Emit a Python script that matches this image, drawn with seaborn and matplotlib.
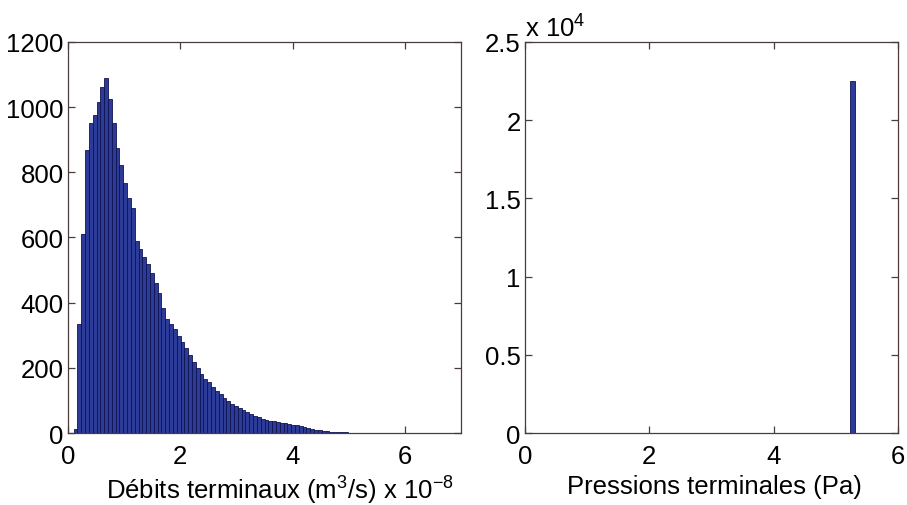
"""
Histogrammes des débits et pressions terminaux (style MATLAB).
"""

import matplotlib
matplotlib.use('Agg')
import matplotlib.pyplot as plt
import seaborn as sns
import numpy as np
import pandas as pd

# Débits terminaux (x 1e-8 m3/s): histogram
flow_bin_start = 0.10
flow_bin_width = 0.068
flow_counts = [12, 333, 610, 869, 952, 975, 1016, 1062, 1090, 1026,
               950, 874, 823, 767, 721, 691, 590, 565, 540, 520,
               490, 460, 430, 385, 350, 335, 318, 298, 278, 260,
               240, 218, 198, 180, 166, 155, 142, 130, 120, 108,
               98, 90, 82, 76, 70, 64, 58, 52, 48, 44,
               40, 38, 36, 34, 32, 30, 28, 26, 24, 21,
               18, 15, 12, 10, 8, 6, 5, 4, 3, 3,
               2, 2, 1, 1, 1, 0, 1]

# Pressions terminales (Pa): a single bin holds everything
pressure_values = [5.27]
pressure_counts = [22500]
pressure_bin_width = 0.08

left_xticks = [0, 2, 4, 6]
left_yticks = [0, 200, 400, 600, 800, 1000, 1200]
right_xticks = [0, 2, 4, 6]
right_yticks = [0, 5000, 10000, 15000, 20000, 25000]
right_ytick_labels = ['0', '0.5', '1', '1.5', '2', '2.5']

sns.set_style('ticks')
plt.rcParams['font.family'] = ['Liberation Sans', 'DejaVu Sans']
plt.rcParams['mathtext.fontset'] = 'custom'
plt.rcParams['mathtext.rm'] = 'Liberation Sans'
plt.rcParams['mathtext.it'] = 'Liberation Sans:italic'
plt.rcParams['text.color'] = 'black'
plt.rcParams['axes.labelcolor'] = 'black'

FS = 18.5
BAR = '#2c3a98'
EDGE = '#0e1450'
SPINE = '#4a3c3a'

W, H = 907, 506
fig = plt.figure(figsize=(W / 100, H / 100), dpi=100)
ax_top, ax_bot = 43, 434
ax1 = fig.add_axes([68 / W, 1 - ax_bot / H, (461 - 68) / W, (ax_bot - ax_top) / H])
ax2 = fig.add_axes([525 / W, 1 - ax_bot / H, (898 - 525) / W, (ax_bot - ax_top) / H])

# left histogram
n_bins = len(flow_counts)
centers = flow_bin_start + flow_bin_width * (np.arange(n_bins) + 0.5)
flow_df = pd.DataFrame({'debit': centers, 'n': flow_counts})
sns.histplot(data=flow_df, x='debit', weights='n', binwidth=flow_bin_width,
             binrange=(flow_bin_start, flow_bin_start + n_bins * flow_bin_width),
             ax=ax1, color=BAR, edgecolor=EDGE, linewidth=0.6, alpha=1)

# right histogram
p_df = pd.DataFrame({'pression': pressure_values, 'n': pressure_counts})
sns.histplot(data=p_df, x='pression', weights='n', binwidth=pressure_bin_width,
             binrange=(pressure_values[0] - pressure_bin_width / 2,
                       pressure_values[0] + pressure_bin_width / 2),
             ax=ax2, color=BAR, edgecolor=EDGE, linewidth=0.6, alpha=1)

for ax in (ax1, ax2):
    ax.set_ylabel('')
    for sp in ax.spines.values():
        sp.set_visible(True)
        sp.set_color(SPINE)
        sp.set_linewidth(0.9)
    ax.tick_params(direction='in', length=5, width=0.9, color=SPINE,
                   labelsize=FS, labelcolor='black', top=True, right=True)
    ax.tick_params(axis='x', pad=8)
    ax.tick_params(axis='y', pad=3)
    ax.grid(False)

ax1.set_xlim(0, 7)
ax1.set_ylim(0, 1200)
ax1.set_xticks(left_xticks)
ax1.set_yticks(left_yticks)
ax1.set_xlabel('Débits terminaux (m$^{\\mathrm{3}}$/s) x 10$^{\\mathrm{-8}}$', fontsize=FS)
ax1.xaxis.set_label_coords(0.54, -0.105)

ax2.set_xlim(0, 6)
ax2.set_ylim(0, 25000)
ax2.set_xticks(right_xticks)
ax2.set_yticks(right_yticks)
ax2.set_yticklabels(right_ytick_labels)
ax2.set_xlabel('Pressions terminales (Pa)', fontsize=FS)
ax2.xaxis.set_label_coords(0.508, -0.105)
ax2.text(0.0, 1.015, 'x 10$^{\\mathrm{4}}$', transform=ax2.transAxes,
         fontsize=FS, ha='left', va='baseline')

plt.savefig('out.png', dpi=100)
print('saved out.png')
